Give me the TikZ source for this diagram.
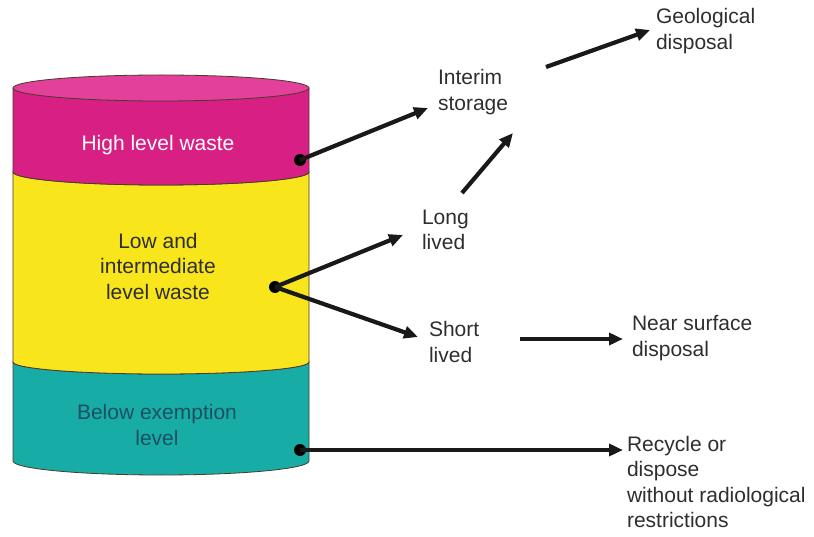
\documentclass[tikz,border=0pt]{standalone}
\usepackage{fontspec}
\setmainfont{Liberation Sans}
\usetikzlibrary{arrows.meta}

\definecolor{hlwpink}{HTML}{D81F84}
\definecolor{hlwtop}{HTML}{E2409A}
\definecolor{ilwyellow}{HTML}{F9E51C}
\definecolor{exteal}{HTML}{17ADA6}
\definecolor{exttext}{HTML}{1D4F63}
\definecolor{rim}{HTML}{4A3A2A}
\definecolor{ink}{HTML}{2E2E2E}

\begin{document}
\begin{tikzpicture}[
    x=1pt, y=-1pt,
    every node/.style={font=\fontsize{21}{25.5}\selectfont, inner sep=0pt, outer sep=0pt},
    lbl/.style={anchor=west, align=left, text=ink},
    dot/.style={circle, fill=black, minimum size=12pt},
    flow/.style={line width=4.2pt, draw=black!90, -{Triangle[length=14pt,width=12pt]}},
  ]
  \useasboundingbox (0,0) rectangle (814,537);

  % the drum, bottom band first
  \filldraw[fill=exteal, draw=rim, line width=0.8pt]
    (13,362) arc[start angle=180, end angle=0, x radius=148, y radius=12]
    -- (309,461) arc[start angle=0, end angle=180, x radius=148, y radius=14] -- cycle;
  \filldraw[fill=ilwyellow, draw=rim, line width=0.8pt]
    (13,172) -- (13,362) arc[start angle=180, end angle=0, x radius=148, y radius=12]
    -- (309,172) arc[start angle=0, end angle=180, x radius=148, y radius=13] -- cycle;
  \filldraw[fill=hlwpink, draw=rim, line width=0.8pt]
    (13,88) -- (13,172) arc[start angle=180, end angle=0, x radius=148, y radius=13]
    -- (309,88) -- cycle;
  \filldraw[fill=hlwtop, draw=rim, line width=0.8pt] (161,88) ellipse[x radius=148, y radius=13];

  % labels on the drum
  \node[text=white, align=center] (hlw) at (158,145) {High level waste};
  \node[text=ink, align=center] (ilw) at (158,266) {Low and\\intermediate\\level waste};
  \node[text=exttext, align=center] (bel) at (157,425) {Below exemption\\level};

  \node[dot] (hlwdot) at (300,160) {};
  \node[dot] (ilwdot) at (275,287) {};
  \node[dot] (beldot) at (300,450) {};

  % routes
  \node[lbl] (interim) at (438,92) {Interim\\storage};
  \node[lbl] (geo) at (656,31) {Geological\\disposal};
  \node[lbl] (long) at (422,230) {Long\\lived};
  \node[lbl] (short) at (429,342) {Short\\lived};
  \node[lbl] (near) at (632,338) {Near surface\\disposal};
  \node[lbl, anchor=north west] (recycle) at (627,436) {Recycle or\\dispose\\without radiological\\restrictions};

  \draw[flow] (hlwdot.center) -- ([shift={(-10,16)}]interim.west);
  \draw[flow] ([shift={(40,-37)}]long.west) -- ([shift={(75,41)}]interim.west);
  \draw[flow] ([shift={(108,-25)}]interim.west) -- ([shift={(-6,-1)}]geo.west);
  \draw[flow] (ilwdot.center) -- ([shift={(-19,5)}]long.west);
  \draw[flow] (ilwdot.center) -- ([shift={(-11,-5)}]short.west);
  \draw[flow] ([shift={(91,-3)}]short.west) -- ([shift={(-9,1)}]near.west);
  \draw[flow] (beldot.center) -- ([shift={(-4,14)}]recycle.north west);
\end{tikzpicture}
\end{document}
